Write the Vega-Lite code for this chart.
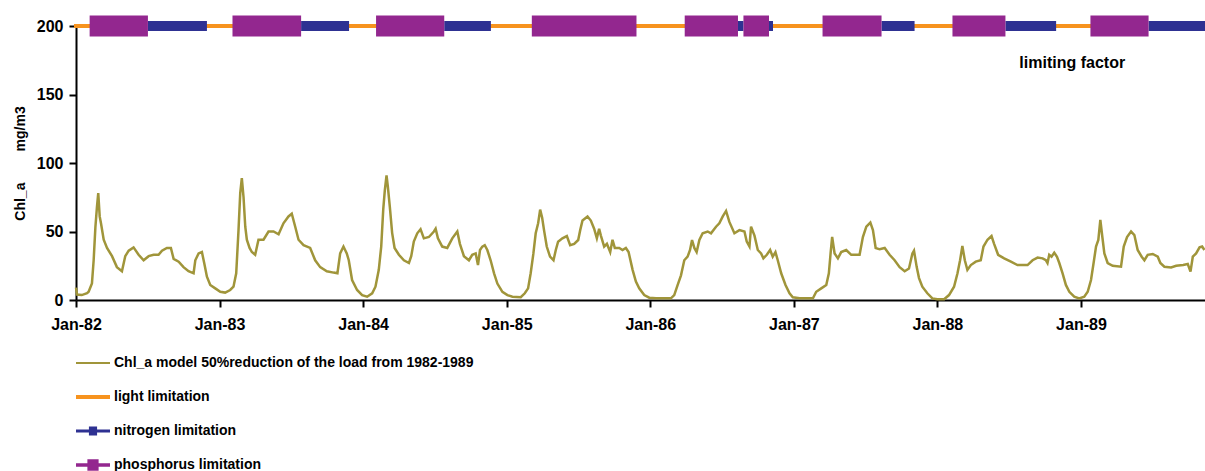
{
  "$schema": "https://vega.github.io/schema/vega-lite/v6.json",
  "width": 1129,
  "height": 274,
  "autosize": "none",
  "padding": {"left": 76, "top": 26, "right": 0, "bottom": 171},
  "background": "white",
  "config": {
    "view": {"stroke": null},
    "font": "Liberation Sans",
    "axis": {
      "grid": false,
      "domainColor": "#000000",
      "domainWidth": 2,
      "tickColor": "#000000",
      "tickWidth": 2,
      "tickSize": 7,
      "labelColor": "#000000",
      "labelFont": "Liberation Sans",
      "labelFontWeight": "bold",
      "labelFontSize": 16,
      "titleColor": "#000000",
      "titleFont": "Liberation Sans",
      "titleFontWeight": "bold",
      "titleFontSize": 14
    }
  },
  "datasets": {
    "chl": [
      {"year": 1982.000, "chl": 9}, {"year": 1982.007, "chl": 4}, {"year": 1982.040, "chl": 3.6}, {"year": 1982.077, "chl": 5},
      {"year": 1982.088, "chl": 6}, {"year": 1982.111, "chl": 12}, {"year": 1982.123, "chl": 29}, {"year": 1982.135, "chl": 53},
      {"year": 1982.146, "chl": 68}, {"year": 1982.155, "chl": 78}, {"year": 1982.165, "chl": 61}, {"year": 1982.174, "chl": 56},
      {"year": 1982.193, "chl": 44}, {"year": 1982.216, "chl": 38}, {"year": 1982.251, "chl": 32}, {"year": 1982.285, "chl": 24},
      {"year": 1982.320, "chl": 21}, {"year": 1982.343, "chl": 32}, {"year": 1982.367, "chl": 36}, {"year": 1982.401, "chl": 38.4},
      {"year": 1982.436, "chl": 33}, {"year": 1982.471, "chl": 29}, {"year": 1982.506, "chl": 32}, {"year": 1982.541, "chl": 33},
      {"year": 1982.575, "chl": 33}, {"year": 1982.599, "chl": 36}, {"year": 1982.633, "chl": 38}, {"year": 1982.661, "chl": 38},
      {"year": 1982.680, "chl": 30}, {"year": 1982.715, "chl": 28}, {"year": 1982.749, "chl": 24}, {"year": 1982.784, "chl": 21},
      {"year": 1982.819, "chl": 19.5}, {"year": 1982.831, "chl": 29}, {"year": 1982.854, "chl": 34}, {"year": 1982.877, "chl": 35},
      {"year": 1982.893, "chl": 27}, {"year": 1982.912, "chl": 17}, {"year": 1982.935, "chl": 11}, {"year": 1982.970, "chl": 8.5},
      {"year": 1983.005, "chl": 6}, {"year": 1983.039, "chl": 5.4}, {"year": 1983.074, "chl": 7.3}, {"year": 1983.097, "chl": 9.7},
      {"year": 1983.116, "chl": 19.5}, {"year": 1983.132, "chl": 51}, {"year": 1983.144, "chl": 78}, {"year": 1983.155, "chl": 89},
      {"year": 1983.167, "chl": 75}, {"year": 1983.179, "chl": 53.5}, {"year": 1983.190, "chl": 44}, {"year": 1983.209, "chl": 38},
      {"year": 1983.225, "chl": 35}, {"year": 1983.248, "chl": 33}, {"year": 1983.271, "chl": 44}, {"year": 1983.306, "chl": 44},
      {"year": 1983.341, "chl": 50}, {"year": 1983.376, "chl": 50}, {"year": 1983.411, "chl": 48}, {"year": 1983.445, "chl": 56},
      {"year": 1983.480, "chl": 61}, {"year": 1983.503, "chl": 63}, {"year": 1983.527, "chl": 53.5}, {"year": 1983.550, "chl": 44},
      {"year": 1983.585, "chl": 40}, {"year": 1983.631, "chl": 38}, {"year": 1983.666, "chl": 29}, {"year": 1983.701, "chl": 24},
      {"year": 1983.747, "chl": 21}, {"year": 1983.794, "chl": 20}, {"year": 1983.821, "chl": 19.5}, {"year": 1983.840, "chl": 34},
      {"year": 1983.863, "chl": 39}, {"year": 1983.886, "chl": 34}, {"year": 1983.900, "chl": 29}, {"year": 1983.923, "chl": 14.6},
      {"year": 1983.958, "chl": 7.3}, {"year": 1983.993, "chl": 3.6}, {"year": 1984.028, "chl": 2.4}, {"year": 1984.063, "chl": 4.9},
      {"year": 1984.086, "chl": 9.7}, {"year": 1984.109, "chl": 22}, {"year": 1984.126, "chl": 39}, {"year": 1984.140, "chl": 66},
      {"year": 1984.151, "chl": 80}, {"year": 1984.163, "chl": 91}, {"year": 1984.172, "chl": 83}, {"year": 1984.186, "chl": 68},
      {"year": 1984.202, "chl": 49}, {"year": 1984.219, "chl": 38}, {"year": 1984.249, "chl": 33}, {"year": 1984.284, "chl": 29},
      {"year": 1984.319, "chl": 27}, {"year": 1984.335, "chl": 32}, {"year": 1984.353, "chl": 42.6}, {"year": 1984.377, "chl": 48.7},
      {"year": 1984.400, "chl": 51.6}, {"year": 1984.423, "chl": 45}, {"year": 1984.458, "chl": 46}, {"year": 1984.493, "chl": 50},
      {"year": 1984.505, "chl": 52}, {"year": 1984.521, "chl": 45}, {"year": 1984.551, "chl": 39}, {"year": 1984.586, "chl": 38},
      {"year": 1984.621, "chl": 45}, {"year": 1984.656, "chl": 50}, {"year": 1984.674, "chl": 41}, {"year": 1984.702, "chl": 32},
      {"year": 1984.737, "chl": 29}, {"year": 1984.760, "chl": 33}, {"year": 1984.784, "chl": 34}, {"year": 1984.800, "chl": 25.5},
      {"year": 1984.814, "chl": 36.5}, {"year": 1984.830, "chl": 39}, {"year": 1984.847, "chl": 40}, {"year": 1984.865, "chl": 36.5},
      {"year": 1984.888, "chl": 29}, {"year": 1984.912, "chl": 19.5}, {"year": 1984.935, "chl": 12}, {"year": 1984.970, "chl": 6},
      {"year": 1985.005, "chl": 3.6}, {"year": 1985.040, "chl": 2.4}, {"year": 1985.098, "chl": 2}, {"year": 1985.126, "chl": 4.9},
      {"year": 1985.149, "chl": 8.5}, {"year": 1985.167, "chl": 19.5}, {"year": 1985.186, "chl": 34}, {"year": 1985.202, "chl": 48.7},
      {"year": 1985.219, "chl": 56}, {"year": 1985.233, "chl": 66}, {"year": 1985.247, "chl": 60}, {"year": 1985.260, "chl": 51},
      {"year": 1985.279, "chl": 39}, {"year": 1985.302, "chl": 31.6}, {"year": 1985.326, "chl": 29}, {"year": 1985.342, "chl": 36.5},
      {"year": 1985.358, "chl": 42.6}, {"year": 1985.388, "chl": 45}, {"year": 1985.419, "chl": 46.7}, {"year": 1985.442, "chl": 40},
      {"year": 1985.470, "chl": 41}, {"year": 1985.498, "chl": 43.8}, {"year": 1985.512, "chl": 51}, {"year": 1985.528, "chl": 58},
      {"year": 1985.563, "chl": 61}, {"year": 1985.586, "chl": 58}, {"year": 1985.609, "chl": 52}, {"year": 1985.628, "chl": 45},
      {"year": 1985.644, "chl": 52}, {"year": 1985.656, "chl": 47}, {"year": 1985.679, "chl": 39}, {"year": 1985.698, "chl": 41},
      {"year": 1985.721, "chl": 35}, {"year": 1985.737, "chl": 44}, {"year": 1985.753, "chl": 38}, {"year": 1985.784, "chl": 38},
      {"year": 1985.807, "chl": 36.5}, {"year": 1985.830, "chl": 38}, {"year": 1985.849, "chl": 35}, {"year": 1985.877, "chl": 22},
      {"year": 1985.900, "chl": 13.4}, {"year": 1985.923, "chl": 8.5}, {"year": 1985.958, "chl": 3.6}, {"year": 1985.993, "chl": 1.7},
      {"year": 1986.040, "chl": 1.2}, {"year": 1986.144, "chl": 1.2}, {"year": 1986.167, "chl": 3.6}, {"year": 1986.191, "chl": 11},
      {"year": 1986.214, "chl": 18}, {"year": 1986.237, "chl": 29}, {"year": 1986.260, "chl": 31.6}, {"year": 1986.277, "chl": 36.5},
      {"year": 1986.291, "chl": 43.8}, {"year": 1986.307, "chl": 38}, {"year": 1986.323, "chl": 35}, {"year": 1986.342, "chl": 43.8},
      {"year": 1986.365, "chl": 48.7}, {"year": 1986.400, "chl": 50}, {"year": 1986.423, "chl": 48.7}, {"year": 1986.458, "chl": 53.5},
      {"year": 1986.481, "chl": 56}, {"year": 1986.505, "chl": 61}, {"year": 1986.528, "chl": 65}, {"year": 1986.551, "chl": 57},
      {"year": 1986.586, "chl": 48.7}, {"year": 1986.621, "chl": 51}, {"year": 1986.656, "chl": 50}, {"year": 1986.672, "chl": 42.6},
      {"year": 1986.691, "chl": 39}, {"year": 1986.702, "chl": 53.5}, {"year": 1986.726, "chl": 47}, {"year": 1986.749, "chl": 36.5},
      {"year": 1986.772, "chl": 34}, {"year": 1986.788, "chl": 30.4}, {"year": 1986.812, "chl": 33}, {"year": 1986.835, "chl": 36.5},
      {"year": 1986.853, "chl": 31.6}, {"year": 1986.872, "chl": 35}, {"year": 1986.888, "chl": 29}, {"year": 1986.912, "chl": 19.5},
      {"year": 1986.942, "chl": 11}, {"year": 1986.970, "chl": 4.9}, {"year": 1986.993, "chl": 2}, {"year": 1987.040, "chl": 1.2},
      {"year": 1987.133, "chl": 1.2}, {"year": 1987.156, "chl": 6}, {"year": 1987.191, "chl": 8.5}, {"year": 1987.226, "chl": 11},
      {"year": 1987.244, "chl": 19.5}, {"year": 1987.256, "chl": 34}, {"year": 1987.267, "chl": 46}, {"year": 1987.284, "chl": 34},
      {"year": 1987.307, "chl": 30.4}, {"year": 1987.330, "chl": 35}, {"year": 1987.365, "chl": 36.5}, {"year": 1987.400, "chl": 33},
      {"year": 1987.458, "chl": 33}, {"year": 1987.481, "chl": 46}, {"year": 1987.505, "chl": 53.5}, {"year": 1987.533, "chl": 56.5},
      {"year": 1987.551, "chl": 51}, {"year": 1987.570, "chl": 38}, {"year": 1987.598, "chl": 37}, {"year": 1987.633, "chl": 38},
      {"year": 1987.667, "chl": 33}, {"year": 1987.702, "chl": 29}, {"year": 1987.737, "chl": 24}, {"year": 1987.772, "chl": 21},
      {"year": 1987.802, "chl": 23}, {"year": 1987.826, "chl": 34}, {"year": 1987.837, "chl": 36}, {"year": 1987.856, "chl": 24},
      {"year": 1987.872, "chl": 16}, {"year": 1987.895, "chl": 9.7}, {"year": 1987.930, "chl": 4.9}, {"year": 1987.965, "chl": 1.2},
      {"year": 1988.000, "chl": 0.5}, {"year": 1988.047, "chl": 0.5}, {"year": 1988.081, "chl": 3.6}, {"year": 1988.116, "chl": 9.7},
      {"year": 1988.140, "chl": 19.5}, {"year": 1988.158, "chl": 29}, {"year": 1988.174, "chl": 39.4}, {"year": 1988.191, "chl": 29},
      {"year": 1988.209, "chl": 22}, {"year": 1988.233, "chl": 25.5}, {"year": 1988.267, "chl": 28}, {"year": 1988.302, "chl": 29},
      {"year": 1988.321, "chl": 39}, {"year": 1988.349, "chl": 44}, {"year": 1988.377, "chl": 46.7}, {"year": 1988.395, "chl": 41},
      {"year": 1988.423, "chl": 33}, {"year": 1988.465, "chl": 30.4}, {"year": 1988.512, "chl": 28}, {"year": 1988.558, "chl": 25.5},
      {"year": 1988.628, "chl": 25.5}, {"year": 1988.663, "chl": 29}, {"year": 1988.698, "chl": 31}, {"year": 1988.733, "chl": 30.4},
      {"year": 1988.756, "chl": 29}, {"year": 1988.767, "chl": 27}, {"year": 1988.779, "chl": 33}, {"year": 1988.795, "chl": 31.6},
      {"year": 1988.814, "chl": 34.5}, {"year": 1988.833, "chl": 31.6}, {"year": 1988.849, "chl": 27}, {"year": 1988.872, "chl": 19.5},
      {"year": 1988.895, "chl": 11}, {"year": 1988.919, "chl": 6}, {"year": 1988.953, "chl": 2.4}, {"year": 1988.988, "chl": 1.2},
      {"year": 1989.023, "chl": 2.4}, {"year": 1989.047, "chl": 6}, {"year": 1989.070, "chl": 14.6}, {"year": 1989.088, "chl": 27},
      {"year": 1989.105, "chl": 39}, {"year": 1989.121, "chl": 43.8}, {"year": 1989.135, "chl": 58.4}, {"year": 1989.149, "chl": 46},
      {"year": 1989.163, "chl": 34}, {"year": 1989.186, "chl": 27}, {"year": 1989.221, "chl": 25}, {"year": 1989.279, "chl": 24.3},
      {"year": 1989.298, "chl": 39}, {"year": 1989.321, "chl": 46}, {"year": 1989.349, "chl": 50}, {"year": 1989.372, "chl": 47.4},
      {"year": 1989.395, "chl": 36.5}, {"year": 1989.423, "chl": 31.6}, {"year": 1989.442, "chl": 29}, {"year": 1989.465, "chl": 33},
      {"year": 1989.500, "chl": 33.6}, {"year": 1989.535, "chl": 31.6}, {"year": 1989.553, "chl": 27}, {"year": 1989.581, "chl": 24.3},
      {"year": 1989.628, "chl": 23.8}, {"year": 1989.663, "chl": 25}, {"year": 1989.712, "chl": 25.5}, {"year": 1989.744, "chl": 26.3},
      {"year": 1989.763, "chl": 20.7}, {"year": 1989.779, "chl": 31.6}, {"year": 1989.802, "chl": 34}, {"year": 1989.826, "chl": 38.4},
      {"year": 1989.844, "chl": 39}, {"year": 1989.860, "chl": 36.5}
    ],
    "limits": [
      {"factor": "light limitation", "start": 1982.000, "end": 1982.095},
      {"factor": "phosphorus limitation", "start": 1982.095, "end": 1982.501},
      {"factor": "nitrogen limitation", "start": 1982.501, "end": 1982.912},
      {"factor": "light limitation", "start": 1982.912, "end": 1983.090},
      {"factor": "phosphorus limitation", "start": 1983.090, "end": 1983.568},
      {"factor": "nitrogen limitation", "start": 1983.568, "end": 1983.902},
      {"factor": "light limitation", "start": 1983.902, "end": 1984.090},
      {"factor": "phosphorus limitation", "start": 1984.090, "end": 1984.565},
      {"factor": "nitrogen limitation", "start": 1984.565, "end": 1984.890},
      {"factor": "light limitation", "start": 1984.890, "end": 1985.175},
      {"factor": "phosphorus limitation", "start": 1985.175, "end": 1985.904},
      {"factor": "light limitation", "start": 1985.904, "end": 1986.240},
      {"factor": "phosphorus limitation", "start": 1986.240, "end": 1986.611},
      {"factor": "nitrogen limitation", "start": 1986.611, "end": 1986.649},
      {"factor": "phosphorus limitation", "start": 1986.649, "end": 1986.827},
      {"factor": "nitrogen limitation", "start": 1986.827, "end": 1986.855},
      {"factor": "light limitation", "start": 1986.855, "end": 1987.200},
      {"factor": "phosphorus limitation", "start": 1987.200, "end": 1987.611},
      {"factor": "nitrogen limitation", "start": 1987.611, "end": 1987.841},
      {"factor": "light limitation", "start": 1987.841, "end": 1988.105},
      {"factor": "phosphorus limitation", "start": 1988.105, "end": 1988.474},
      {"factor": "nitrogen limitation", "start": 1988.474, "end": 1988.827},
      {"factor": "light limitation", "start": 1988.827, "end": 1989.066},
      {"factor": "phosphorus limitation", "start": 1989.066, "end": 1989.471},
      {"factor": "nitrogen limitation", "start": 1989.471, "end": 1989.864}
    ]
  },
  "layer": [
    {
      "data": {"name": "chl"},
      "mark": {"type": "line", "strokeWidth": 2.5},
      "encoding": {
        "x": {
          "field": "year",
          "type": "quantitative",
          "scale": {"domain": [1982, 1989.864], "nice": false, "zero": false},
          "axis": {
            "title": null,
            "values": [1982, 1983, 1984, 1985, 1986, 1987, 1988, 1989],
            "labelExpr": "'Jan-' + substring(toString(datum.value), 2, 4)",
            "labelPadding": 9,
            "labelFlush": false,
            "labelOverlap": false
          }
        },
        "y": {
          "field": "chl",
          "type": "quantitative",
          "scale": {"domain": [0, 200], "nice": false},
          "axis": {
            "title": "Chl_a\u00a0\u00a0\u00a0\u00a0\u00a0\u00a0\u00a0\u00a0mg/m3",
            "values": [0, 50, 100, 150, 200],
            "labelPadding": 6,
            "titlePadding": 9
          }
        },
        "color": {
          "datum": "Chl_a model 50%reduction of the load from 1982-1989",
          "type": "nominal",
          "title": null,
          "scale": {
            "domain": ["Chl_a model 50%reduction of the load from 1982-1989", "light limitation", "nitrogen limitation", "phosphorus limitation"],
            "range": ["#A0953A", "#F7931E", "#2E3192", "#93278F"]
          },
          "legend": {
            "title": null,
            "orient": "none",
            "legendX": 0,
            "legendY": 320,
            "direction": "vertical",
            "padding": 0,
            "rowPadding": 0,
            "clipHeight": 34,
            "symbolSize": 1156,
            "symbolType": "stroke",
            "labelFont": "Liberation Sans",
            "labelFontWeight": "bold",
            "labelFontSize": 14,
            "labelColor": "#000000",
            "labelOffset": 4,
            "labelLimit": 600,
            "encode": {
              "symbols": {
                "update": {
                  "shape": {"signal": "datum.value === 'nitrogen limitation' ? 'M-1,-0.09H1V0.09H-1ZM-0.24,-0.27H0.24V0.27H-0.24Z' : datum.value === 'phosphorus limitation' ? 'M-1,-0.1H1V0.1H-1ZM-0.33,-0.34H0.33V0.34H-0.33Z' : datum.value === 'light limitation' ? 'M-1,-0.12H1V0.12H-1Z' : 'M-1,-0.065H1V0.065H-1Z'"},
                  "size": {"value": 1156},
                  "strokeWidth": {"value": 0},
                  "fill": {"scale": "color", "field": "value"},
                  "stroke": {"value": "transparent"},
                  "opacity": {"value": 1}
                }
              }
            }
          }
        }
      }
    },
    {
      "data": {"name": "limits"},
      "transform": [{"filter": "datum.factor === 'light limitation'"}],
      "mark": {"type": "rule", "strokeWidth": 4, "strokeCap": "square"},
      "encoding": {
        "x": {"field": "start", "type": "quantitative"},
        "x2": {"field": "end"},
        "y": {"datum": 200, "type": "quantitative"},
        "color": {"field": "factor", "type": "nominal", "title": null, "legend": {"title": null}}
      }
    },
    {
      "data": {"name": "limits"},
      "transform": [{"filter": "datum.factor === 'nitrogen limitation'"}],
      "mark": {"type": "rule", "strokeWidth": 10, "strokeCap": "butt"},
      "encoding": {
        "x": {"field": "start", "type": "quantitative"},
        "x2": {"field": "end"},
        "y": {"datum": 200, "type": "quantitative"},
        "color": {"field": "factor", "type": "nominal", "title": null, "legend": {"title": null}}
      }
    },
    {
      "data": {"name": "limits"},
      "transform": [{"filter": "datum.factor === 'phosphorus limitation'"}],
      "mark": {"type": "rule", "strokeWidth": 21, "strokeCap": "butt"},
      "encoding": {
        "x": {"field": "start", "type": "quantitative"},
        "x2": {"field": "end"},
        "y": {"datum": 200, "type": "quantitative"},
        "color": {"field": "factor", "type": "nominal", "title": null, "legend": {"title": null}}
      }
    },
    {
      "data": {"values": [{"label": "limiting factor"}]},
      "mark": {"type": "text", "align": "left", "baseline": "middle", "font": "Liberation Sans", "fontWeight": "bold", "fontSize": 16, "fill": "#000000"},
      "encoding": {
        "x": {"datum": 1988.571, "type": "quantitative"},
        "y": {"datum": 173, "type": "quantitative"},
        "text": {"field": "label"}
      }
    }
  ]
}
